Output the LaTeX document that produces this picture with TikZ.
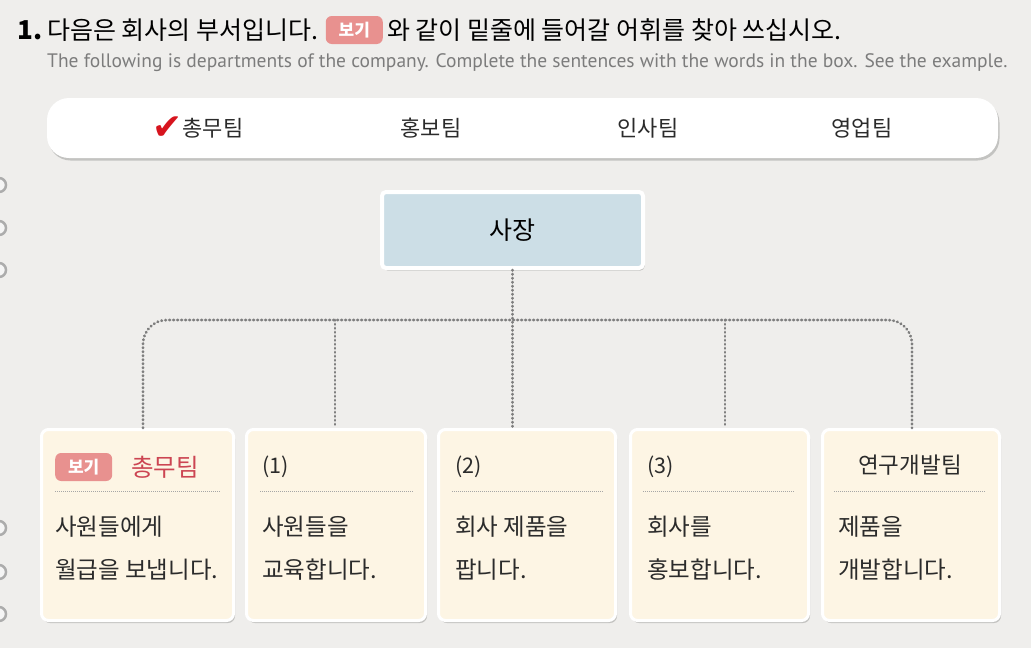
\documentclass[tikz,border=0pt]{standalone}
\usepackage{fontspec}
\setmainfont{Noto Sans CJK KR}
\newfontfamily\latinfont{PT Sans}
\newfontfamily\symfont{DejaVu Sans}
\usetikzlibrary{positioning,shadows}

\definecolor{pagebg}{HTML}{EFEEEC}
\definecolor{cream}{HTML}{FDF5E4}
\definecolor{bossblue}{HTML}{CCDEE6}
\definecolor{badgepink}{HTML}{E8918F}
\definecolor{teamred}{HTML}{CC4552}
\definecolor{checkred}{HTML}{D7141E}
\definecolor{inkgray}{HTML}{2B2B2B}
\definecolor{subgray}{HTML}{7C7C7C}
\definecolor{dotgray}{HTML}{7E7E7E}

\tikzset{
  softshadow/.style={drop shadow={shadow xshift=1.5pt, shadow yshift=-2.5pt, opacity=0.18, fill=black}},
  teambox/.style={draw=white, line width=3pt, fill=cream, rounded corners=7pt,
    minimum height=191pt, softshadow},
  bossbox/.style={draw=white, line width=4pt, fill=bossblue, rounded corners=4pt,
    minimum width=261pt, minimum height=76pt, softshadow, font=\fontsize{25}{28}\selectfont},
  badge/.style={fill=badgepink, rounded corners=6pt, text=white, inner sep=0pt,
    minimum width=57pt, minimum height=28pt, font=\fontsize{17}{18}\selectfont\bfseries},
  word/.style={inner sep=0pt, text=inkgray, font=\fontsize{22}{24}\selectfont},
  head/.style={inner sep=0pt, anchor=west, text=inkgray, font=\fontsize{21.5}{24}\selectfont},
  body/.style={inner sep=0pt, anchor=west, align=left, text=inkgray,
    font=\fontsize{23.5}{43}\selectfont},
  link/.style={dotgray, line width=2.8pt, line cap=round, dash pattern=on 0.5pt off 3.5pt},
  sep/.style={gray!70, line width=0.6pt, dash pattern=on 1pt off 1pt},
  hole/.style={draw=gray!65, line width=2.5pt, fill=gray!8}
}

\begin{document}
\begin{tikzpicture}[x=1pt, y=-1pt]
\useasboundingbox (0,0) rectangle (1031,648);
\fill[pagebg] (0,0) rectangle (1031,648);

% binder holes
\foreach \y in {185,228,270,528,572,614}
  \draw[hole] (-1,\y) circle (7pt);

% heading
\node[inner sep=0pt, anchor=west, font=\fontsize{26}{28}\selectfont\bfseries] (num) at (17,30) {1.};
\node[inner sep=0pt, anchor=west, font=\fontsize{25}{28}\selectfont] (t1) at (47,30) {다음은 회사의 부서입니다.};
\node[badge, right=7pt of t1] (tb) {보기};
\node[inner sep=0pt, right=4pt of tb, font=\fontsize{25}{28}\selectfont] (t2) {와 같이 밑줄에 들어갈 어휘를 찾아 쓰십시오.};
\node[inner sep=0pt, anchor=west, text=subgray, font=\latinfont\fontsize{19.5}{22}\selectfont] (sub) at (47,63)
  {The following is departments of the company. Complete the sentences with the words in the box. See the example.};

% word box
\node[fill=white, rounded corners=22pt, minimum width=951pt, minimum height=60pt, softshadow] (words) at (522.5,128) {};
\node[word] (w1) at (213,128) {총무팀};
\node[inner sep=0pt, left=0pt of w1, text=checkred, font=\symfont\fontsize{36}{38}\selectfont] (chk) {✔};
\node[word] (w2) at (431,128) {홍보팀};
\node[word] (w3) at (648,128) {인사팀};
\node[word] (w4) at (862,128) {영업팀};

% chart
\node[bossbox] (boss) at (512.5,230) {사장};
\node[teambox, minimum width=192pt] (b1) at (137.5,525) {};
\node[teambox, minimum width=179pt] (b2) at (336,525) {};
\node[teambox, minimum width=177pt] (b3) at (527,525) {};
\node[teambox, minimum width=178pt] (b4) at (719.5,525) {};
\node[teambox, minimum width=177pt] (b5) at (911,525) {};

\coordinate (jl) at (143,320);
\coordinate (jr) at (912,320);
\coordinate (j2) at (335,320);
\coordinate (j4) at (725,320);
\draw[link] (boss.south) -- (boss.south |- b3.north);
\draw[link, rounded corners=24pt] (jl |- b1.north) |- (jr) -- (jr |- b5.north);
\draw[link] (j2) -- (j2 |- b2.north);
\draw[link] (j4) -- (j4 |- b4.north);

% box contents
\node[badge, anchor=west] (eg) at (55,467) {보기};
\node[head, text=teamred, font=\fontsize{24.5}{28}\selectfont] (eg1) at (131,467) {총무팀};
\node[head] (h2) at (262,467) {(1)};
\node[head] (h3) at (455,467) {(2)};
\node[head] (h4) at (647,467) {(3)};
\node[word, font=\fontsize{22.5}{26}\selectfont] (h5) at (910,465) {연구개발팀};

\draw[sep] (55,491) -- (220,491);
\draw[sep] (260,491) -- (413,491);
\draw[sep] (452,491) -- (604,491);
\draw[sep] (643,491) -- (795,491);
\draw[sep] (834,491) -- (986,491);

\node[body] (d1) at (55,548.5) {사원들에게\\월급을 보냅니다.};
\node[body] (d2) at (262,548.5) {사원들을\\교육합니다.};
\node[body] (d3) at (455,548.5) {회사 제품을\\팝니다.};
\node[body] (d4) at (647,548.5) {회사를\\홍보합니다.};
\node[body] (d5) at (838,548.5) {제품을\\개발합니다.};
\end{tikzpicture}
\end{document}
